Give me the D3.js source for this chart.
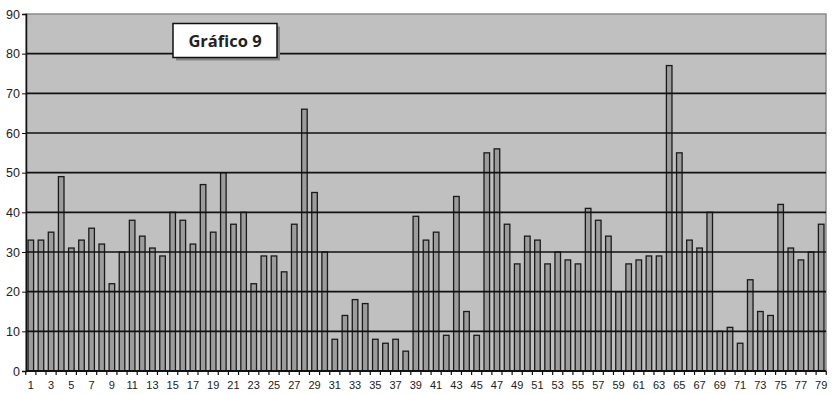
<!DOCTYPE html>
<html>
<head>
<meta charset="utf-8">
<script src="https://cdn.jsdelivr.net/npm/d3@7/dist/d3.min.js"></script>
<style>
  body { margin: 0; background: #fff; }
  svg { display: block; }
</style>
</head>
<body>
<div id="chart"></div>
<script>
// data
const categories = d3.range(1, 80);
const values = [
  33, 33, 35, 49, 31, 33, 36, 32, 22, 30,
  38, 34, 31, 29, 40, 38, 32, 47, 35, 50,
  37, 40, 22, 29, 29, 25, 37, 66, 45, 30,
  8, 14, 18, 17, 8, 7, 8, 5, 39, 33,
  35, 9, 44, 15, 9, 55, 56, 37, 27, 34,
  33, 27, 30, 28, 27, 41, 38, 34, 20, 27,
  28, 29, 29, 77, 55, 33, 31, 40, 10, 11,
  7, 23, 15, 14, 42, 31, 28, 30, 37
];
const yTicks = d3.range(0, 100, 10);
const title = "Gráfico 9";

const width = 833;
const height = 394;
const margin = { top: 14, right: 7, bottom: 23, left: 26 };
const innerW = width - margin.left - margin.right;
const innerH = height - margin.top - margin.bottom;

const svg = d3.select("#chart").append("svg")
  .attr("width", width)
  .attr("height", height);

const g = svg.append("g")
  .attr("transform", `translate(${margin.left},${margin.top})`);

const x = d3.scaleBand()
  .domain(categories)
  .range([0, innerW])
  .paddingInner(0.45)
  .paddingOuter(0.2);

const y = d3.scaleLinear()
  .domain([0, 90])
  .range([innerH, 0]);

// plot background
g.append("rect")
  .attr("width", innerW)
  .attr("height", innerH)
  .attr("fill", "#c0c0c0")
  .attr("stroke", "#8a8a8a")
  .attr("stroke-width", 1.5);

// bars
g.selectAll("rect.bar")
  .data(values)
  .enter()
  .append("rect")
  .attr("class", "bar")
  .attr("x", (d, i) => x(categories[i]))
  .attr("y", d => y(d))
  .attr("width", x.bandwidth())
  .attr("height", d => innerH - y(d))
  .attr("fill", "#9c9c9c")
  .attr("stroke", "#1a1a1a")
  .attr("stroke-width", 1.3);

// gridlines (drawn over the bars like in the scan)
g.selectAll("line.grid")
  .data(yTicks.filter(d => d > 0 && d < 90))
  .enter()
  .append("line")
  .attr("class", "grid")
  .attr("x1", 0)
  .attr("x2", innerW)
  .attr("y1", d => y(d))
  .attr("y2", d => y(d))
  .attr("stroke", "#111")
  .attr("stroke-width", 1.6);

// y axis
const yAxis = g.append("g")
  .call(d3.axisLeft(y).tickValues(yTicks).tickSize(4).tickPadding(2));
yAxis.select(".domain").attr("stroke", "#111").attr("stroke-width", 1.5);
yAxis.selectAll("line").attr("stroke", "#111");
yAxis.selectAll("text")
  .attr("font-family", "Liberation Sans, Arial, sans-serif")
  .attr("font-size", 12.5)
  .attr("fill", "#222");

// x axis: ticks between categories, labels every other category
const xAxisG = g.append("g")
  .attr("transform", `translate(0,${innerH})`);
xAxisG.append("line")
  .attr("x1", 0).attr("x2", innerW)
  .attr("stroke", "#111").attr("stroke-width", 2);

const step = x.step();
const x0 = x(categories[0]) - x.paddingInner() * step / 2;
xAxisG.selectAll("line.tick")
  .data(d3.range(categories.length + 1))
  .enter()
  .append("line")
  .attr("class", "tick")
  .attr("x1", i => x0 + i * step)
  .attr("x2", i => x0 + i * step)
  .attr("y1", 0).attr("y2", 4)
  .attr("stroke", "#111").attr("stroke-width", 1.2);

xAxisG.selectAll("text")
  .data(categories.filter(c => c % 2 === 1))
  .enter()
  .append("text")
  .attr("x", c => x(c) + x.bandwidth() / 2)
  .attr("y", 18)
  .attr("text-anchor", "middle")
  .attr("font-family", "Liberation Sans, Arial, sans-serif")
  .attr("font-size", 11)
  .attr("fill", "#222")
  .text(c => c);

// title box
const box = { x: 173, y: 23.5, w: 104, h: 34 };
svg.append("rect")
  .attr("x", box.x + 3).attr("y", box.y + 3)
  .attr("width", box.w).attr("height", box.h)
  .attr("fill", "#858585");
svg.append("rect")
  .attr("x", box.x).attr("y", box.y)
  .attr("width", box.w).attr("height", box.h)
  .attr("fill", "#fff")
  .attr("stroke", "#111")
  .attr("stroke-width", 1.5);
svg.append("text")
  .attr("x", box.x + box.w / 2)
  .attr("y", box.y + 23)
  .attr("text-anchor", "middle")
  .attr("font-family", "Open Sans, Noto Sans, sans-serif")
  .attr("font-weight", "bold")
  .attr("font-size", 16.5)
  .attr("fill", "#222")
  .text(title);
</script>
</body>
</html>
